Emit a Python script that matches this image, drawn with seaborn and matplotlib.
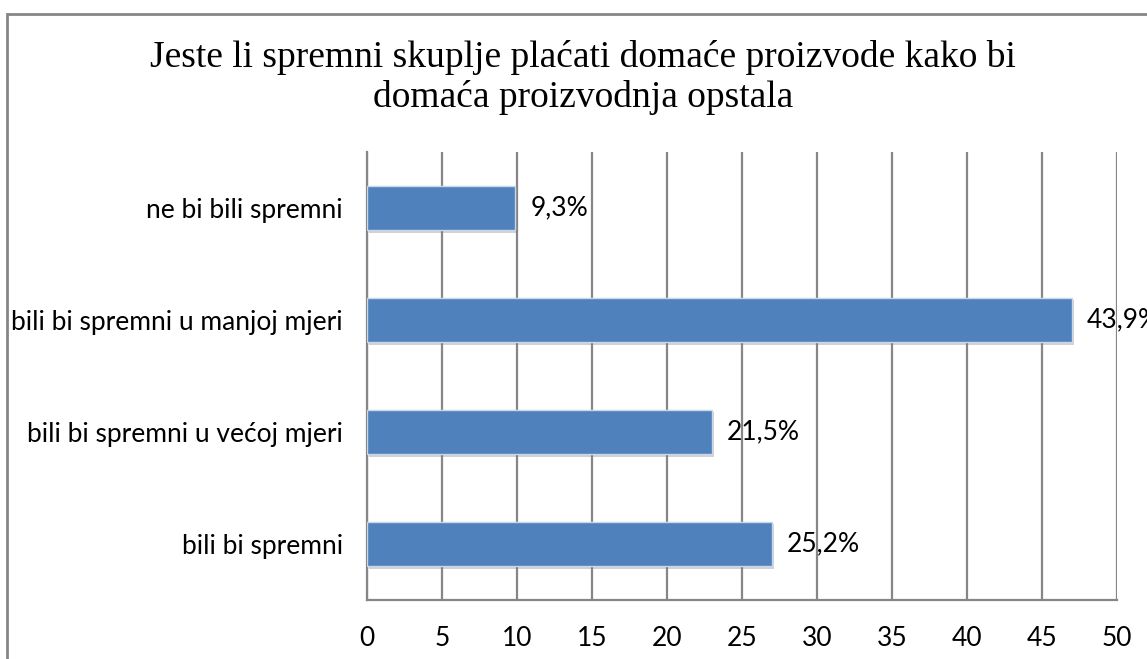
import pandas as pd
import numpy as np

import matplotlib
matplotlib.use("Agg")
import matplotlib.pyplot as plt
import matplotlib.patheffects as pe
from matplotlib.patches import Rectangle
import seaborn as sns

# data (bar lengths and printed labels differ in the original)
categories = ["ne bi bili spremni",
              "bili bi spremni u manjoj mjeri",
              "bili bi spremni u većoj mjeri",
              "bili bi spremni"]
bar_values = [9.9, 47.0, 23.0, 27.0]
bar_labels = ["9,3%", "43,9%", "21,5%", "25,2%"]
x_ticks = [0, 5, 10, 15, 20, 25, 30, 35, 40, 45, 50]

df = pd.DataFrame({"odgovor": categories, "vrijednost": bar_values})

sns.set_theme(style="white")
plt.rcParams["font.family"] = ["Lato", "DejaVu Sans"]

grid_col = "#868686"
bar_col = "#4F81BD"

fig = plt.figure(figsize=(11.47, 6.59), dpi=100)
ax = fig.add_axes([0.3197, 0.0895, 0.6539, 0.6798])

sns.barplot(data=df, x="vrijednost", y="odgovor", order=categories,
            orient="h", color=bar_col, width=0.4, saturation=1,
            edgecolor="#C9D7EA", linewidth=1, ax=ax, zorder=3)

for p in ax.patches:
    p.set_path_effects([pe.SimplePatchShadow(offset=(2, -2), alpha=0.35, shadow_rgbFace="#7F7F7F"),
                        pe.Normal()])

for i, (v, lab) in enumerate(zip(bar_values, bar_labels)):
    ax.annotate(lab, xy=(v, i), xytext=(11, 0), textcoords="offset points",
                ha="left", va="center", fontsize=19, color="black",
                annotation_clip=False, zorder=2)

ax.set_xlim(0, 50)
ax.set_ylim(3.5, -0.5)
ax.set_xticks(x_ticks)
ax.set_xticklabels([str(t) for t in x_ticks])
ax.tick_params(axis="x", labelsize=19, colors="black", length=0, pad=19)
ax.tick_params(axis="y", labelsize=19, colors="black", length=0, pad=17)
ax.set_xlabel("")
ax.set_ylabel("")

for t in x_ticks:
    ax.axvline(t, color=grid_col, linewidth=1.6, zorder=1)

for s in ["top", "right"]:
    ax.spines[s].set_visible(False)
for s in ["left", "bottom"]:
    ax.spines[s].set_color(grid_col)
    ax.spines[s].set_linewidth(1.6)

fig.text(0.508, 0.882, "Jeste li spremni skuplje plaćati domaće proizvode kako bi\ndomaća proizvodnja opstala",
         ha="center", va="center", fontsize=27, family="Liberation Serif",
         color="black", linespacing=1.2)

frame = Rectangle((7.5 / 1147, -0.05), 1.2, 1.05 - 13.5 / 659, transform=fig.transFigure,
                  fill=False, edgecolor=grid_col, linewidth=2)
fig.patches.append(frame)

fig.savefig("out.png", dpi=100)
